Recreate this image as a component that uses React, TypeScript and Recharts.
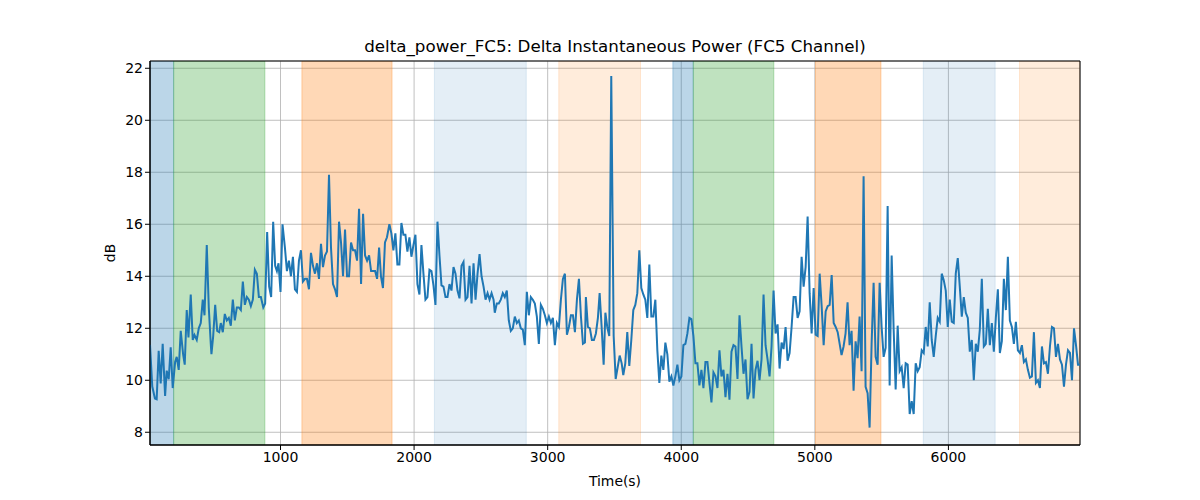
import { LineChart, Line, XAxis, YAxis, CartesianGrid, ReferenceArea } from "recharts";

// sample times (s) and delta power (dB)
const timeS = [
  23, 40, 60, 73, 88, 103, 118, 136, 148, 163, 178, 193, 211, 223, 238, 253, 271, 283, 298, 311,
  328, 343, 356, 373, 388, 403, 418, 431, 448, 463, 478, 483, 496, 511, 526, 541, 553, 568, 583, 598,
  613, 628, 643, 658, 673, 688, 703, 718, 733, 748, 763, 778, 793, 808, 823, 838, 853, 871,
  885, 900, 915, 930, 945, 960, 973, 985, 1000, 1015, 1033, 1048, 1063, 1078, 1093, 1108, 1123, 1138,
  1153, 1168, 1183, 1198, 1213, 1228, 1243, 1258, 1273, 1288, 1303, 1318, 1333, 1348, 1363, 1378, 1393,
  1408, 1423, 1438, 1453, 1468, 1483, 1498, 1513, 1528, 1543, 1558, 1573, 1588, 1603, 1618, 1633, 1648,
  1663, 1678, 1693, 1708, 1723, 1738,
  1752, 1767, 1782, 1797, 1815, 1830, 1845, 1860, 1875, 1890, 1905, 1920, 1935, 1950, 1965, 1980, 1995,
  2010, 2025, 2040, 2055, 2070, 2085, 2100, 2115, 2130, 2145, 2160, 2175, 2190, 2205, 2220, 2235, 2250,
  2265, 2280, 2295, 2310, 2325, 2340, 2355, 2370, 2385, 2400, 2415, 2430, 2445, 2460, 2475, 2490, 2505,
  2520, 2535, 2550, 2565, 2580, 2595,
  2604, 2619, 2634, 2649, 2664, 2679, 2694, 2709, 2724, 2739, 2754, 2769, 2784, 2799, 2814, 2829, 2844,
  2859, 2874, 2889, 2904, 2919, 2934, 2949, 2964, 2979, 2994, 3009, 3024, 3039, 3054, 3069, 3084, 3099,
  3114, 3129, 3144, 3159, 3174, 3189, 3204, 3219, 3234, 3249, 3264, 3279, 3286, 3301, 3316, 3331, 3346,
  3361, 3376, 3389, 3404, 3419, 3432,
  3446, 3461, 3476, 3494, 3509, 3524, 3539, 3554, 3566, 3581, 3596, 3611, 3626, 3641, 3656, 3671, 3686,
  3701, 3716, 3731, 3746, 3761, 3776, 3791, 3806, 3821, 3836, 3851, 3866, 3881, 3896, 3911, 3926, 3941,
  3956, 3971, 3986, 4001, 4016, 4031, 4046, 4061, 4076, 4091, 4106, 4121, 4136, 4151, 4166, 4181, 4196,
  4211, 4226, 4241, 4256, 4271, 4286, 4301, 4316,
  4331, 4346, 4361, 4376, 4391, 4406, 4421, 4436, 4451, 4466, 4481, 4496, 4511, 4526, 4541, 4556, 4571,
  4586, 4601, 4616, 4631, 4646, 4661, 4676, 4691, 4706, 4721, 4736, 4751, 4766, 4781, 4796, 4811, 4826,
  4841, 4856, 4871, 4886, 4901, 4916, 4931, 4946, 4961, 4976, 4991, 5006, 5021, 5036, 5051, 5066, 5081,
  5096, 5111, 5126, 5141, 5156, 5171,
  5200, 5215, 5230, 5245, 5260, 5275, 5290, 5305, 5320, 5335, 5350, 5365, 5380, 5395, 5410, 5425, 5440,
  5455, 5470, 5485, 5500, 5515, 5530, 5545, 5560, 5575, 5590, 5605, 5620, 5635, 5650, 5665, 5680, 5695,
  5710, 5725, 5740, 5755, 5770, 5785, 5800, 5815, 5830, 5845, 5860, 5875, 5890, 5905, 5920, 5935, 5950,
  5965, 5980, 5995, 6010, 6025, 6040,
  6055, 6070, 6085, 6100, 6115, 6130, 6145, 6160, 6175, 6190, 6205, 6220, 6235, 6250, 6265, 6280, 6295,
  6310, 6325, 6340, 6355, 6370, 6385, 6400, 6415, 6430, 6445, 6460, 6475, 6490, 6505, 6520, 6535, 6550,
  6565, 6580, 6595, 6610, 6625, 6640, 6655, 6670, 6685, 6700, 6715, 6730, 6745, 6760, 6775, 6790, 6805,
  6820, 6835, 6850, 6865, 6880, 6895, 6910, 6925, 6940, 6955, 6970, 6985,
];

const deltaDb = [
  11.36, 9.76, 9.3, 9.27, 11.13, 9.88, 11.4, 9.4, 10.37, 10.04, 11.27, 9.7, 10.7, 10.9, 10.4, 11.9, 11.0, 10.6, 12.7, 11.65,
  13.3, 11.55, 11.74, 11.55, 12.0, 12.2, 13.1, 12.5, 15.2, 12.8, 11.4, 11.0, 11.7, 12.9, 11.9, 11.85, 12.2, 11.85, 12.55, 12.3,
  12.4, 12.1, 13.1, 12.3, 12.8, 12.8, 12.7, 13.8, 12.9, 13.2, 13.1, 12.85, 13.1, 14.25, 14.1, 13.2, 13.2, 12.8,
  12.95, 15.7, 13.6, 13.2, 16.1, 14.4, 14.2, 14.5, 13.4, 16.0, 15.1, 14.2, 14.6, 14.0, 14.75, 13.5, 13.4, 14.6,
  15.0, 13.8, 13.9, 13.9, 13.5, 14.9, 14.4, 14.1, 14.5, 13.9, 15.25, 14.35, 14.8, 14.95, 17.9, 15.1, 13.7,
  13.5, 13.2, 16.1, 15.3, 14.0, 15.8, 14.0, 14.0, 15.3, 15.0, 15.0, 14.6, 16.6, 13.7, 16.4, 14.8, 14.6,
  14.8, 14.2, 14.2, 14.2, 13.9, 15.1,
  14.0, 13.55, 15.3, 15.5, 16.0, 15.65, 15.0, 15.65, 14.45, 14.45, 16.05, 15.6, 15.6, 14.95, 15.5, 14.75, 15.2,
  15.6, 13.7, 13.3, 15.2, 14.1, 13.1, 13.2, 14.25, 14.2, 13.65, 12.9, 16.1, 14.8, 13.65, 13.6, 13.2, 13.2,
  13.7, 13.45, 14.35, 14.1, 13.45, 13.15, 14.4, 14.55, 13.1, 13.2, 14.4, 12.95, 14.5, 13.1, 14.1, 14.85, 14.0,
  13.6, 13.1, 13.35, 13.1, 13.35, 13.1,
  12.6, 12.95, 12.95, 13.1, 13.35, 13.2, 13.45, 12.3, 11.9, 12.0, 12.45, 12.2, 12.3, 12.0, 11.95, 11.35, 13.4,
  12.5, 13.2, 13.1, 12.95, 12.45, 11.4, 12.9, 12.75, 12.5, 12.2, 12.45, 12.2, 12.4, 11.35, 12.2, 12.05, 13.1,
  13.9, 14.1, 11.75, 12.05, 12.5, 12.5, 11.85, 13.1, 13.9, 12.45, 11.4, 11.45, 13.2, 12.05, 12.0, 11.55, 11.55,
  11.8, 12.4, 13.35, 12.05, 10.6, 12.6,
  12.05, 11.7, 21.7, 11.7, 10.05, 10.5, 10.95, 10.65, 10.2, 10.65, 11.85, 10.55, 11.55, 12.7, 12.9, 13.35, 15.0,
  13.55, 13.3, 13.1, 12.4, 14.45, 12.45, 12.45, 13.1, 11.15, 9.9, 10.95, 10.4, 11.45, 11.0, 9.95, 10.15, 9.8,
  10.15, 10.6, 10.0, 10.15, 11.35, 11.4, 11.8, 12.4, 12.35, 11.7, 10.65, 10.65, 9.8, 10.4, 9.7, 10.7, 10.7,
  9.9, 9.15, 10.3, 10.15, 9.7, 11.15, 10.15, 10.4,
  9.35, 10.25, 9.25, 11.1, 11.35, 11.3, 10.05, 12.5, 11.3, 10.25, 10.8, 9.27, 9.55, 11.4, 9.3, 10.4, 10.75,
  10.0, 10.8, 13.3, 11.35, 10.8, 10.15, 11.3, 13.45, 11.8, 12.15, 10.45, 11.45, 11.2, 12.05, 10.75, 11.05, 12.05,
  13.2, 13.2, 12.4, 12.65, 14.75, 13.6, 14.35, 16.3, 13.35, 11.8, 13.55, 11.75, 11.7, 14.1, 12.85, 11.35, 12.65,
  12.85, 12.9, 14.05, 12.2, 12.05, 11.85,
  10.97, 11.3, 11.8, 13.0, 11.35, 11.9, 9.6, 11.5, 10.85, 12.45, 10.35, 17.85, 9.75, 9.5, 8.18, 11.4, 13.75,
  10.9, 10.6, 13.75, 12.05, 10.9, 11.25, 16.7, 9.8, 14.8, 11.95, 9.65, 12.1, 10.35, 10.5, 9.7, 10.65, 10.6,
  8.7, 9.2, 8.7, 10.65, 10.35, 10.5, 11.15, 11.05, 12.05, 11.3, 13.0, 11.55, 10.9, 11.7, 12.4, 12.25, 14.1,
  13.85, 13.45, 12.05, 13.1, 12.25, 12.2,
  14.1, 14.7, 13.6, 12.45, 13.2, 12.6, 12.4, 11.1, 11.55, 10.0, 11.4, 11.1, 11.95, 13.9, 11.3, 11.4, 12.75,
  11.35, 12.2, 11.1, 12.4, 13.5, 11.05, 11.5, 13.9, 12.7, 14.75, 12.3, 12.05, 11.4, 12.25, 11.15, 11.05, 11.35,
  10.7, 10.8, 10.4, 10.1, 10.15, 11.85, 9.9, 10.0, 9.7, 11.3, 10.65, 10.7, 10.25, 11.3, 12.05, 12.0, 10.9,
  11.4, 10.8, 10.6, 9.75, 10.6, 11.15, 11.05, 10.0, 12.0, 11.35, 10.6, 10.6,
];

const xTicks = [1000, 2000, 3000, 4000, 5000, 6000];
const yTicks = [8, 10, 12, 14, 16, 18, 20, 22];

// shaded segments (s)
const bandStart = [23, 200, 1160, 2152, 3083, 3937, 4090, 5005, 5812, 6532];
const bandEnd = [200, 883, 1835, 2840, 3695, 4090, 4693, 5495, 6350, 6985];
const bandKind = ["blue", "green", "orange", "paleBlue", "paleOrange", "blue", "green", "orange", "paleBlue", "paleOrange"];

const BAND_STYLE: Record<string, { color: string; alpha: number }> = {
  blue: { color: "#1f77b4", alpha: 0.3 },
  green: { color: "#2ca02c", alpha: 0.3 },
  orange: { color: "#ff7f0e", alpha: 0.3 },
  paleBlue: { color: "#1f77b4", alpha: 0.12 },
  paleOrange: { color: "#ff7f0e", alpha: 0.15 },
};

const X_DOMAIN: [number, number] = [23, 6985];
const Y_DOMAIN: [number, number] = [7.51, 22.28];
const FONT = "DejaVu Sans, sans-serif";

const rows = timeS.map((t, i) => ({ t, db: deltaDb[i] }));

export default function App() {
  return (
    <div style={{ position: "absolute", left: 0, top: 0, width: 1200, height: 500, background: "#fff" }}>
      <LineChart width={1200} height={500} data={rows} margin={{ top: 61, right: 120, bottom: 25, left: 100 }}>
        {bandKind.map((k, i) => (
          <ReferenceArea
            key={i}
            x1={bandStart[i]}
            x2={bandEnd[i]}
            y1={Y_DOMAIN[0]}
            y2={Y_DOMAIN[1]}
            fill={BAND_STYLE[k].color}
            fillOpacity={BAND_STYLE[k].alpha}
            stroke={BAND_STYLE[k].color}
            strokeOpacity={BAND_STYLE[k].alpha}
            ifOverflow="hidden"
          />
        ))}
        <CartesianGrid stroke="#b0b0b0" strokeWidth={0.8} />
        <XAxis
          type="number"
          dataKey="t"
          domain={X_DOMAIN}
          ticks={xTicks}
          allowDataOverflow
          height={30}
          tickSize={5}
          tick={{ fill: "#000", fontSize: 14, fontFamily: FONT }}
          tickLine={{ stroke: "#000" }}
          axisLine={{ stroke: "#000" }}
        />
        <YAxis
          type="number"
          domain={Y_DOMAIN}
          ticks={yTicks}
          allowDataOverflow
          width={50}
          tickSize={5}
          tick={{ fill: "#000", fontSize: 14, fontFamily: FONT }}
          tickLine={{ stroke: "#000" }}
          axisLine={{ stroke: "#000" }}
        />
        <ReferenceArea
          x1={X_DOMAIN[0]}
          x2={X_DOMAIN[1]}
          y1={Y_DOMAIN[0]}
          y2={Y_DOMAIN[1]}
          fill="none"
          stroke="#000"
          strokeWidth={1}
        />
        <Line
          type="linear"
          dataKey="db"
          stroke="#1f77b4"
          strokeWidth={2}
          dot={false}
          isAnimationActive={false}
        />
      </LineChart>
      <svg
        width={1200}
        height={500}
        style={{ position: "absolute", left: 0, top: 0, pointerEvents: "none" }}
        fontFamily={FONT}
      >
        <text x={615} y={52} textAnchor="middle" fontSize={16.7} fill="#000">
          delta_power_FC5: Delta Instantaneous Power (FC5 Channel)
        </text>
        <text x={615} y={486} textAnchor="middle" fontSize={13.9} fill="#000">
          Time(s)
        </text>
        <text x={115} y={253} textAnchor="middle" fontSize={13.9} fill="#000" transform="rotate(-90, 115, 253)">
          dB
        </text>
      </svg>
    </div>
  );
}
